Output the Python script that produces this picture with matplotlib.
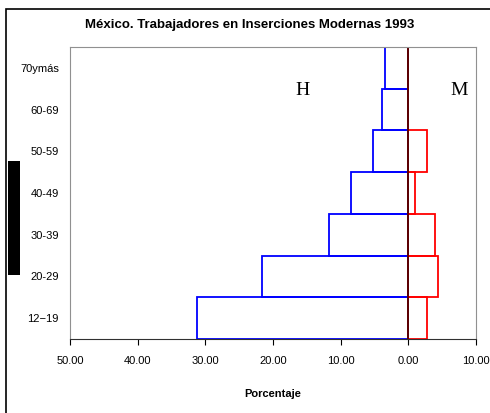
import matplotlib
matplotlib.use('Agg')
import matplotlib.pyplot as plt
from matplotlib.patches import Rectangle

edades = ['12\u221219', '20-29', '30-39', '40-49', '50-59', '60-69', '70ymás']
hombres = [31.2, 21.6, 11.8, 8.5, 5.2, 3.9, 3.4]
mujeres = [2.8, 4.4, 3.9, 1.0, 2.8, 0.0, 0.0]
ticks_x = [-50, -40, -30, -20, -10, 0, 10]

plt.rcParams['font.family'] = ['Liberation Sans', 'DejaVu Sans']

fig = plt.figure(figsize=(4.9, 4.13), dpi=100)
ax = fig.add_axes([0.1429, 0.1792, 0.8286, 0.707])

y = list(range(len(edades)))
ax.barh(y, [-h for h in hombres], height=1.0, facecolor='none', edgecolor='#0000ff', linewidth=1.3)
ax.barh(y, mujeres, height=1.0, facecolor='none', edgecolor='#ff0000', linewidth=1.3)
ax.axvline(0, color='#400000', linewidth=1.2)

ax.set_xlim(-50, 10)
ax.set_ylim(-0.5, 6.5)
ax.set_xticks(ticks_x)
ax.set_xticklabels([f'{abs(v):.2f}' for v in ticks_x], fontsize=8)
ax.set_yticks(y)
ax.set_yticklabels(edades, fontsize=8)
ax.tick_params(axis='y', length=0, pad=8)
ax.tick_params(axis='x', length=4, direction='out', pad=8)
for s in ['left', 'top', 'right']:
    ax.spines[s].set_color('#909090')
ax.spines['bottom'].set_color('#303030')

ax.text(-15.7, 5.45, 'H', family='Liberation Serif', fontsize=14, ha='center', va='center')
ax.text(7.5, 5.45, 'M', family='Liberation Serif', fontsize=14, ha='center', va='center')

ax.set_xlabel('Porcentaje', fontsize=8, fontweight='bold', labelpad=17)
fig.text(0.51, 0.94, 'México. Trabajadores en Inserciones Modernas 1993',
         fontsize=9.5, fontweight='bold', ha='center', va='center')

# marco exterior y bloque negro
fig.add_artist(Rectangle((0.012, -0.01), 1.0, 0.988, transform=fig.transFigure,
                         fill=False, edgecolor='black', linewidth=1.2))
fig.add_artist(Rectangle((0.016, 0.333), 0.025, 0.278, transform=fig.transFigure,
                         facecolor='black', edgecolor='none'))

fig.savefig('out.png', dpi=100)
